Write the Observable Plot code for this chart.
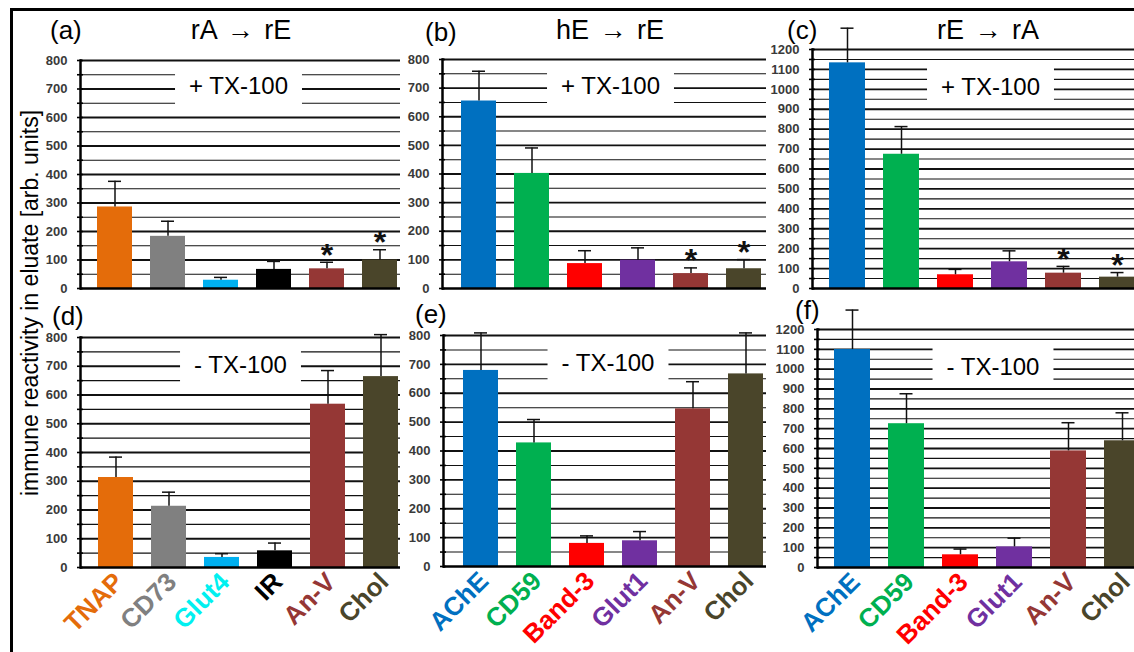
<!DOCTYPE html>
<html><head><meta charset="utf-8">
<script src="https://cdn.jsdelivr.net/npm/d3@7"></script>
<script src="https://cdn.jsdelivr.net/npm/@observablehq/plot@0.6"></script>
<style>
body{margin:0;background:#fff;}
#fig{position:relative;width:1134px;height:652px;overflow:hidden;font-family:"Liberation Sans",Arial,sans-serif;background:#fff;}
.p{position:absolute;}
.t{position:absolute;line-height:1;white-space:nowrap;color:#000;}
</style></head><body><div id="fig"></div>
<script>
// ---- data ----
const ratCats = ["TNAP", "CD73", "Glut4", "IR", "An-V", "Chol"];
const eryCats = ["AChE", "CD59", "Band-3", "Glut1", "An-V", "Chol"];
const ratBarColors = ["#E46C0A", "#808080", "#00B0F0", "#000000", "#953735", "#4A452A"];
const ratLabelColors = ["#E46C0A", "#808080", "#00F0F0", "#000000", "#953735", "#4A452A"];
const eryBarColors = ["#0070C0", "#00B050", "#FF0000", "#7030A0", "#953735", "#4A452A"];
const eryLabelColors = ["#0070C0", "#00B050", "#FF0000", "#7030A0", "#953735", "#4A452A"];

const aMean = [286, 183, 29, 67, 69, 100];
const aSD   = [90, 53, 10, 28, 23, 36];
const bMean = [655, 402, 87, 99, 52, 69];
const bSD   = [104, 89, 45, 43, 20, 32];
const cMean = [1133, 674, 69, 134, 77, 57];
const cSD   = [174, 139, 27, 55, 34, 23];
const dMean = [313, 213, 35, 58, 568, 664];
const dSD   = [71, 49, 13, 27, 117, 146];
const eMean = [679, 428, 80, 89, 546, 667];
const eSD   = [130, 81, 26, 32, 94, 142];
const fMean = [1099, 725, 64, 104, 588, 639];
const fSD   = [199, 151, 29, 44, 142, 141];
const sigPlus  = [false, false, false, false, true, true];
const sigMinus = [false, false, false, false, false, false];

const yTicks800 = [0, 100, 200, 300, 400, 500, 600, 700, 800];
const yTicks1200 = [0, 100, 200, 300, 400, 500, 600, 700, 800, 900, 1000, 1100, 1200];

const panelLetters = ["(a)", "(b)", "(c)", "(d)", "(e)", "(f)"];
const panelTitles = ["rA \u2192 rE", "hE \u2192 rE", "rE \u2192 rA"];
const conditionLabels = ["+ TX-100", "- TX-100"];
const yTitle = "immune reactivity in eluate [arb. units]";

// ---- layout ----
const panels = [
  {left:0,   top:0,   width:400, height:300, ml:80, mt:60, mb:12, bar0:97,  step:53,   bw:35, ticks:yTicks800,  cats:ratCats, bc:ratBarColors, lc:ratLabelColors, mean:aMean, sd:aSD, sig:sigPlus,  cond:conditionLabels[0], cdx:-2, cdy:26, xl:false},
  {left:400, top:0,   width:366, height:300, ml:42, mt:59, mb:12, bar0:461, step:53,   bw:35, ticks:yTicks800,  cats:eryCats, bc:eryBarColors, lc:eryLabelColors, mean:bMean, sd:bSD, sig:sigPlus,  cond:conditionLabels[0], cdx:6,  cdy:27, xl:false},
  {left:760, top:0,   width:374, height:300, ml:52, mt:49, mb:12, bar0:829, step:54,   bw:36, ticks:yTicks1200, cats:eryCats, bc:eryBarColors, lc:eryLabelColors, mean:cMean, sd:cSD, sig:sigPlus,  cond:conditionLabels[0], cdx:17, cdy:38, xl:false},
  {left:0,   top:300, width:400, height:352, ml:80, mt:37, mb:85, bar0:97,  step:53.2, bw:35, ticks:yTicks800,  cats:ratCats, bc:ratBarColors, lc:ratLabelColors, mean:dMean, sd:dSD, sig:sigMinus, cond:conditionLabels[1], cdx:0,  cdy:28, xl:true},
  {left:400, top:300, width:366, height:352, ml:43, mt:35, mb:86, bar0:462, step:53.2, bw:35, ticks:yTicks800,  cats:eryCats, bc:eryBarColors, lc:eryLabelColors, mean:eMean, sd:eSD, sig:sigMinus, cond:conditionLabels[1], cdx:3,  cdy:28, xl:true},
  {left:760, top:300, width:374, height:352, ml:57, mt:29, mb:85, bar0:834, step:54,   bw:36, ticks:yTicks1200, cats:eryCats, bc:eryBarColors, lc:eryLabelColors, mean:fMean, sd:fSD, sig:sigMinus, cond:conditionLabels[1], cdx:17, cdy:38, xl:true}
];

const fig = document.getElementById("fig");
const SVGNS = "http://www.w3.org/2000/svg";

panels.forEach((p) => {
  const data = p.cats.map((c, i) => ({name: c, mean: p.mean[i], top: p.mean[i] + p.sd[i], color: p.bc[i], lcolor: p.lc[i], sig: p.sig[i]}));
  const yMax = p.ticks[p.ticks.length - 1];
  const all50 = d3.range(0, yMax + 1, 50);
  const major = all50.filter(v => v % 100 === 0 && v > 0);
  const minor = all50.filter(v => v % 100 !== 0);
  const x0 = p.bar0 - p.left;
  const x1 = x0 + 5 * p.step + p.bw;
  const marks = [
    Plot.ruleY(minor, {stroke: "#111", strokeWidth: 1.1}),
    Plot.ruleY(major, {stroke: "#111", strokeWidth: 1.8}),
    Plot.text([p.cond], {frameAnchor: "top", lineAnchor: "middle", dx: p.cdx, dy: p.cdy, fontSize: 24, fill: "#000"}),
    Plot.barY(data, {x: "name", y: "mean", fill: "color"}),
    Plot.ruleX(data, {x: "name", y1: "mean", y2: "top", stroke: "#111", strokeWidth: 1.5}),
    Plot.tickY(data, {x: "name", y: "top", stroke: "#111", strokeWidth: 1.5, insetLeft: (p.bw - 13) / 2, insetRight: (p.bw - 13) / 2}),
    Plot.text(data.filter(d => d.sig), {x: "name", y: "top", text: () => "*", dy: -7, fontSize: 32, fontWeight: "bold", fill: "#111"}),
    Plot.axisY({ticks: p.ticks, tickSize: 0, tickPadding: 13, fontSize: 13, fontWeight: "bold", fill: "#3a3a3a", tickFormat: d => String(d)}),
    Plot.axisY({ticks: all50, tickSize: 6, dx: 3, text: null, stroke: "#000", strokeWidth: 1.6}),
    Plot.frame({anchor: "left", stroke: "#000", strokeWidth: 2.5}),
    Plot.ruleY([0], {stroke: "#000", strokeWidth: 2.5})
  ];
  if (p.xl) {
    marks.push(Plot.text(data, {x: "name", text: "name", fill: "lcolor", frameAnchor: "bottom", rotate: -45, textAnchor: "end", dx: 9, dy: 16, fontSize: 26, fontWeight: "bold"}));
  }
  const svg = Plot.plot({
    width: p.width, height: p.height,
    marginLeft: p.ml, marginRight: 0, marginTop: p.mt, marginBottom: p.mb,
    style: {background: "transparent", overflow: "visible", fontFamily: "'Liberation Sans', Arial, sans-serif"},
    x: {type: "band", domain: p.cats, range: [x0, x1], paddingInner: 1 - p.bw / p.step, paddingOuter: 0, axis: null},
    y: {domain: [0, yMax], axis: null},
    color: {type: "identity"},
    marks
  });
  svg.classList.add("p");
  svg.style.left = p.left + "px";
  svg.style.top = p.top + "px";
  fig.appendChild(svg);

  // put each rotated category label inside its own rotated group
  if (p.xl) {
    d3.select(svg).selectAll("g[aria-label=text] text").filter(function() { return p.cats.includes(this.textContent); }).each(function() {
      const tr = this.getAttribute("transform") || "";
      const m = tr.match(/translate\(\s*([-\d.e]+)[ ,]+([-\d.e]+)\s*\)/);
      if (!m) return;
      const g = document.createElementNS(SVGNS, "g");
      g.setAttribute("transform", `translate(${+m[1]},${+m[2]}) rotate(-45)`);
      this.parentNode.insertBefore(g, this);
      this.removeAttribute("transform");
      g.appendChild(this);
    });
  }

  // white box behind the condition label
  const sb = svg.getBoundingClientRect();
  d3.select(svg).selectAll("text").filter(function() { return this.textContent === p.cond; }).each(function() {
    const bb = this.getBoundingClientRect();
    const cy = bb.top - sb.top + bb.height / 2;
    const g = this.parentNode;
    const rect = document.createElementNS(SVGNS, "rect");
    rect.setAttribute("x", bb.left - sb.left - 14);
    rect.setAttribute("width", bb.width + 28);
    rect.setAttribute("y", cy - 21);
    rect.setAttribute("height", 42);
    rect.setAttribute("fill", "#fff");
    g.parentNode.insertBefore(rect, g);
  });
});

// panel letters and titles
const letterPos = [[50, 31], [425, 33], [787, 31], [52, 317], [415, 315], [795, 311]];
panelLetters.forEach((t, i) => {
  const d = document.createElement("div");
  d.className = "t";
  d.style.fontSize = "26px";
  d.textContent = t;
  d.style.left = letterPos[i][0] + "px";
  d.style.top = (letterPos[i][1] - 14) + "px";
  fig.appendChild(d);
});
const titleCenters = [[241, 32], [610, 32], [988, 32]];
panelTitles.forEach((t, i) => {
  const d = document.createElement("div");
  d.className = "t";
  d.style.fontSize = "27px";
  d.style.wordSpacing = "3px";
  d.textContent = t;
  d.style.left = titleCenters[i][0] + "px";
  d.style.top = (titleCenters[i][1] - 15) + "px";
  d.style.transform = "translateX(-50%)";
  fig.appendChild(d);
});
// y-axis title
const yt = document.createElement("div");
yt.className = "t";
yt.style.fontSize = "23px";
yt.textContent = yTitle;
yt.style.left = "30px";
yt.style.top = "303px";
yt.style.transform = "translate(-50%,-50%) rotate(-90deg)";
fig.appendChild(yt);
// outer border (left and top edges visible)
const border = document.createElement("div");
border.style.cssText = "position:absolute;left:10px;top:8px;width:2000px;height:2000px;border-left:3px solid #000;border-top:3px solid #000;pointer-events:none;";
fig.appendChild(border);
</script>
</body></html>
